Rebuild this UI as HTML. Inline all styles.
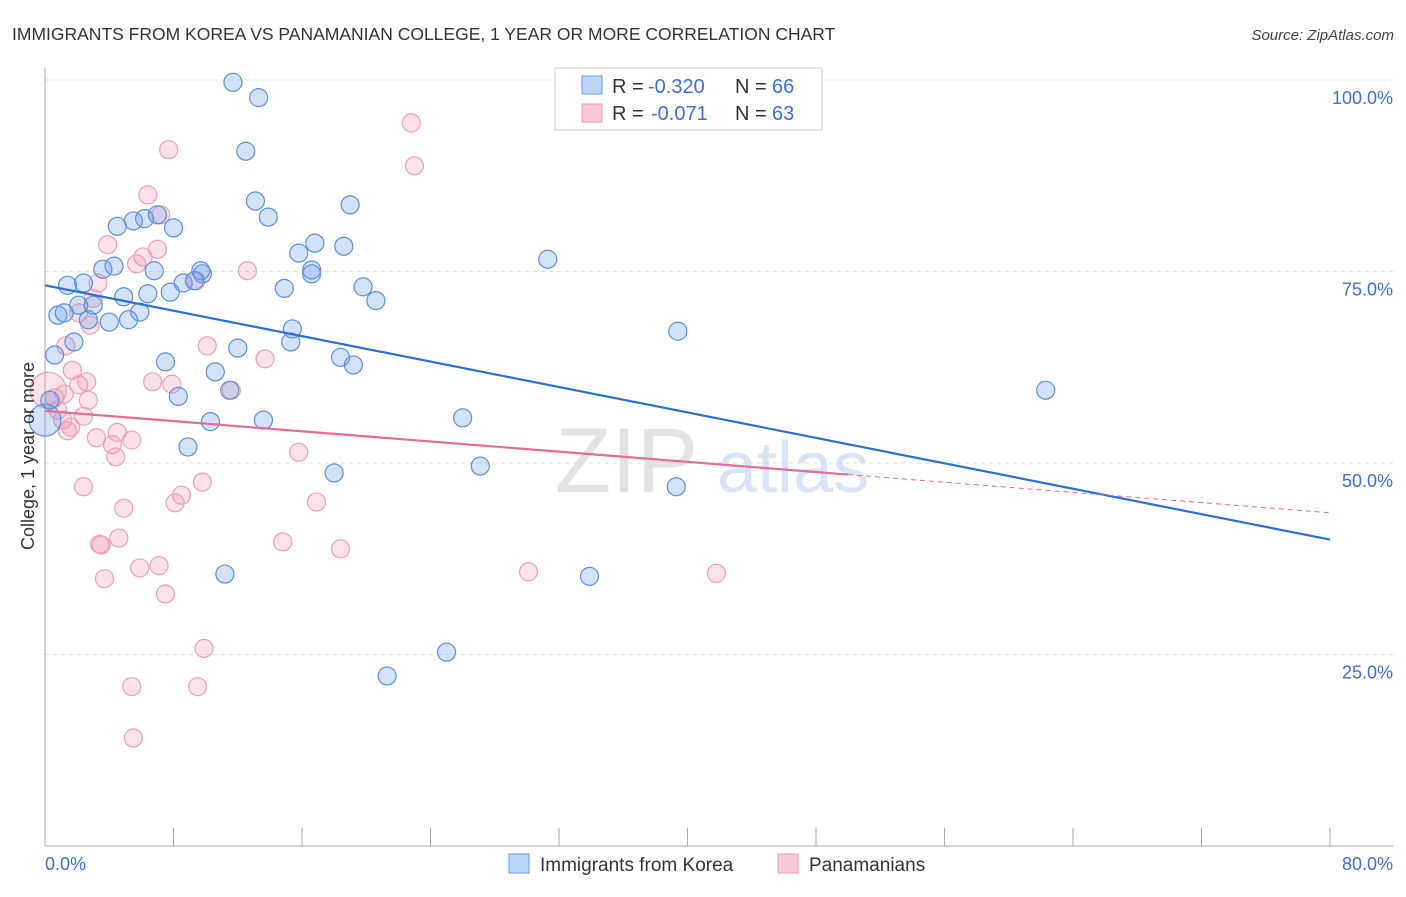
<!DOCTYPE html>
<html><head><meta charset="utf-8"><style>
body{margin:0;background:#fff;font-family:"Liberation Sans",sans-serif;}
svg text{font-family:"Liberation Sans",sans-serif;}
</style></head><body>
<svg id="chart" width="1406" height="892" viewBox="0 0 1406 892" xmlns="http://www.w3.org/2000/svg">
<text x="12" y="40" font-size="17.5" fill="#333">IMMIGRANTS FROM KOREA VS PANAMANIAN COLLEGE, 1 YEAR OR MORE CORRELATION CHART</text>
<text x="1394" y="40" font-size="15" fill="#444" text-anchor="end" font-style="italic">Source: ZipAtlas.com</text>
<g id="grid"></g>
<g id="axes"></g>
<text x="555" y="492" font-size="92" fill="#ddd" font-family="Liberation Serif" opacity="0.8">ZIP</text>
<text x="717" y="492" font-size="72" fill="#c9daf3" opacity="0.7">atlas</text>
<g id="pts"></g>
<g id="lines"></g>
<text transform="translate(34,456) rotate(-90)" font-size="18" fill="#333" text-anchor="middle">College, 1 year or more</text>
<g>
<rect x="555" y="68" width="267" height="62" fill="#fff" stroke="#ccc"/>
<rect x="582" y="76" width="20" height="18" fill="#bcd4f5" stroke="#6b9be0"/>
<rect x="582" y="104" width="20" height="18" fill="#f9c9d8" stroke="#ec9ab5"/>
<text x="612" y="93" font-size="20" fill="#333">R =</text>
<text x="648" y="93" font-size="20" fill="#3d6fd0">-0.320</text>
<text x="735" y="93" font-size="20" fill="#333">N =</text>
<text x="772" y="93" font-size="20" fill="#3d6fd0">66</text>
<text x="612" y="120" font-size="20" fill="#333">R =</text>
<text x="651" y="120" font-size="20" fill="#3d6fd0">-0.071</text>
<text x="735" y="120" font-size="20" fill="#333">N =</text>
<text x="772" y="120" font-size="20" fill="#3d6fd0">63</text>
</g>
<g>
<rect x="509" y="854" width="20" height="19" fill="#bcd4f5" stroke="#6b9be0"/>
<text x="540" y="871" font-size="19" fill="#333">Immigrants from Korea</text>
<rect x="778" y="854" width="20" height="19" fill="#f9c9d8" stroke="#ec9ab5"/>
<text x="809" y="871" font-size="19" fill="#333">Panamanians</text>
</g>
</svg>
<script>
const blueX=[11.7,13.3,12.5,13.1,19.0,13.9,4.5,5.5,6.2,7.0,8.0,16.8,18.6,15.8,31.3,3.6,4.3,6.8,9.7,9.8,16.6,16.6,1.4,2.4,8.6,9.3,7.8,6.4,14.9,19.8,4.9,20.6,2.1,3.0,0.8,1.2,5.9,2.7,4.0,5.2,15.4,39.4,15.3,1.8,12.0,0.6,7.5,18.4,19.2,10.6,11.5,62.3,8.3,10.3,13.6,26.0,8.9,18.0,27.1,39.3,11.2,33.9,25.0,21.3,0.0,0.3];
const blueY=[99.7,97.7,90.7,84.2,83.7,82.1,80.9,81.6,81.9,82.4,80.7,78.7,78.3,77.4,76.6,75.3,75.7,75.1,75.1,74.7,75.2,74.7,73.2,73.5,73.5,73.8,72.3,72.1,72.8,73.0,71.7,71.2,70.6,70.6,69.3,69.6,69.7,68.7,68.4,68.7,67.5,67.2,65.8,65.8,65.0,64.1,63.2,63.8,62.8,61.9,59.5,59.5,58.7,55.4,55.6,55.9,52.1,48.7,49.6,46.9,35.5,35.2,25.3,22.2,55.6,58.2];
const pinkX=[22.8,7.7,23.0,6.4,7.2,3.9,7.0,6.1,5.7,12.6,3.3,9.4,3.0,2.1,2.8,10.1,1.3,13.7,1.7,2.1,2.6,6.7,7.9,11.6,0.2,1.2,0.6,2.7,0.8,2.4,1.1,1.6,1.4,4.5,3.2,5.4,4.2,4.4,15.8,2.4,8.5,9.8,8.1,16.9,4.9,4.6,3.4,3.5,14.8,18.4,5.9,7.1,3.7,30.1,41.8,7.5,9.9,5.4,9.5,5.5];
const pinkY=[94.4,90.9,88.8,85.0,82.4,78.5,77.9,76.9,76.0,75.1,73.5,73.8,71.5,69.6,68.0,65.3,65.3,63.6,62.1,60.2,60.6,60.6,60.3,59.5,59.5,59.0,58.5,58.2,56.9,56.1,55.6,54.7,54.2,54.0,53.3,53.0,52.4,50.8,51.4,46.9,45.8,47.5,44.8,44.9,44.1,40.2,39.4,39.3,39.7,38.8,36.3,36.6,34.9,35.8,35.6,32.9,25.8,20.8,20.8,14.1];
const blueTrend=[73.2,40.0];
const pinkTrend=[56.8,43.5];
const pinkSolidEnd=50.0;
const yTicks=[25,50,75,100];
const yTickLabels=["25.0%","50.0%","75.0%","100.0%"];
const xTickCount=10;

(function(){
const NS="http://www.w3.org/2000/svg";
const X0=45,X1=1330,Y0=846,Y100=80;
const sx=v=>X0+(v/80)*(X1-X0);
const sy=v=>Y0-(v/100)*(Y0-Y100);
function mk(tag,attrs,parent){const e=document.createElementNS(NS,tag);for(const k in attrs)e.setAttribute(k,attrs[k]);parent.appendChild(e);return e;}
const grid=document.getElementById('grid'),axes=document.getElementById('axes'),pts=document.getElementById('pts'),lines=document.getElementById('lines');
yTicks.forEach((t,i)=>{
  const l=mk('line',{x1:X0,x2:1393,y1:sy(t),y2:sy(t),stroke:'#ddd','stroke-dasharray':'4,4'},grid);
  
  
  const tx=mk('text',{x:1393,y:sy(t)+24,'font-size':18,fill:'#3d6fd0','text-anchor':'end'},axes);
  tx.textContent=yTickLabels[i];
  
  
});
const ya=mk('line',{x1:X0,x2:X0,y1:68,y2:Y0,stroke:'#aaa'},axes);


const xa=mk('line',{x1:X0,x2:1393,y1:Y0,y2:Y0,stroke:'#aaa'},axes);


for(let i=0;i<=xTickCount;i++){
  const v=i*80/xTickCount;
  const t=mk('line',{x1:sx(v),x2:sx(v),y1:Y0,y2:Y0-18,stroke:'#aaa'},axes);
  
  
}
const xl0=mk('text',{x:45,y:870,'font-size':18,fill:'#3d6fd0'},axes);xl0.textContent='0.0%';


const xl1=mk('text',{x:1393,y:870,'font-size':18,fill:'#3d6fd0','text-anchor':'end'},axes);xl1.textContent='80.0%';


pinkX.forEach((x,i)=>{
  const big=(i===24);
  const c=mk('circle',{cx:sx(x),cy:sy(pinkY[i]),r:big?18:9,fill:'rgba(242,150,180,0.28)',stroke:'#eba0b9','stroke-width':1.2},pts);
  
  
});
blueX.forEach((x,i)=>{
  const big=(i===64);
  const c=mk('circle',{cx:sx(x),cy:sy(blueY[i]),r:big?16:9,fill:'rgba(110,160,230,0.3)',stroke:'#5b8fdc','stroke-width':1.2},pts);
  
  
});
const bl=mk('line',{x1:sx(0),y1:sy(blueTrend[0]),x2:sx(80),y2:sy(blueTrend[1]),stroke:'#2a6fd6','stroke-width':2.2},lines);


const pAt=v=>pinkTrend[0]+(pinkTrend[1]-pinkTrend[0])*v/80;
const pl=mk('line',{x1:sx(0),y1:sy(pAt(0)),x2:sx(pinkSolidEnd),y2:sy(pAt(pinkSolidEnd)),stroke:'#e66a94','stroke-width':2.2},lines);


const pd=mk('line',{x1:sx(pinkSolidEnd),y1:sy(pAt(pinkSolidEnd)),x2:sx(80),y2:sy(pAt(80)),stroke:'#e66a94','stroke-width':1,'stroke-dasharray':'5,4'},lines);


})();
</script>
</body></html>
